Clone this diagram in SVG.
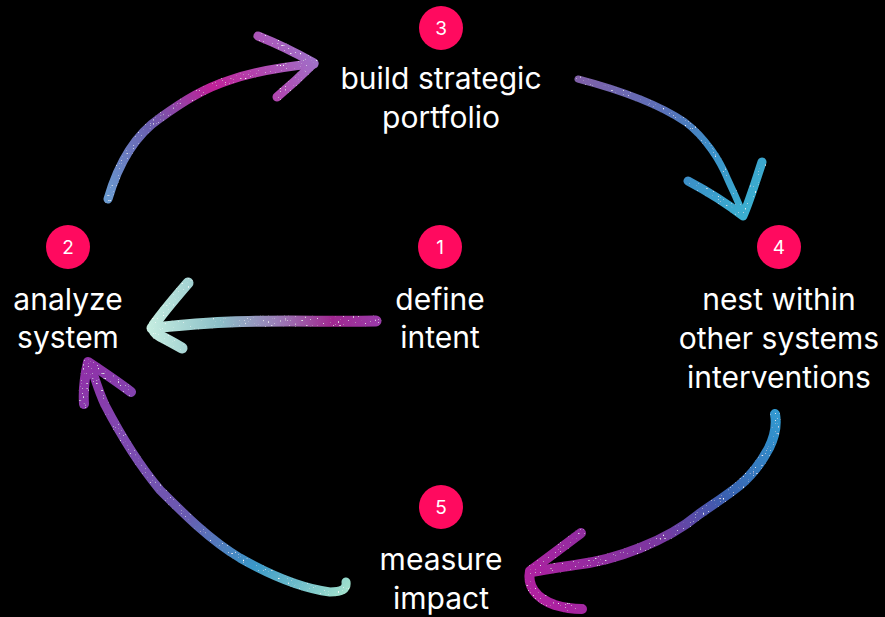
<svg xmlns="http://www.w3.org/2000/svg" width="885" height="617" viewBox="0 0 885 617">
<style>
.badge{fill:#FF0A5F}
.num{fill:#fff;font-family:Inter,"Liberation Sans",sans-serif;font-size:19px;text-anchor:middle}
.lbl{fill:#fff;font-family:Inter,"Liberation Sans",sans-serif;font-size:30px;text-anchor:middle}
.arr{fill:none;stroke-linecap:round;stroke-linejoin:round}
</style>
<defs>
<filter id="glitter" x="-10%" y="-10%" width="120%" height="120%">
<feTurbulence type="fractalNoise" baseFrequency="0.6" numOctaves="1" seed="4" result="n"/>
<feColorMatrix in="n" type="matrix" values="0 0 0 0 1 0 0 0 0 1 0 0 0 0 1 0 0 0 8 -5.4" result="dots"/>
<feComposite in="dots" in2="SourceAlpha" operator="in" result="d2"/>
<feMerge><feMergeNode in="SourceGraphic"/><feMergeNode in="d2"/></feMerge>
</filter>
<linearGradient id="g1" gradientUnits="userSpaceOnUse" x1="150" y1="325" x2="378" y2="320">
<stop offset="0" stop-color="#c4ece0"/><stop offset="0.3" stop-color="#8cc0c8"/><stop offset="0.55" stop-color="#9a80b8"/><stop offset="0.8" stop-color="#a02890"/><stop offset="1" stop-color="#9a3aa8"/>
</linearGradient>
<linearGradient id="g2" gradientUnits="userSpaceOnUse" x1="108" y1="200" x2="315" y2="60">
<stop offset="0" stop-color="#6a9ad0"/><stop offset="0.3" stop-color="#6a60b0"/><stop offset="0.6" stop-color="#c02098"/><stop offset="1" stop-color="#a070c8"/>
</linearGradient>
<linearGradient id="g3" gradientUnits="userSpaceOnUse" x1="577" y1="79" x2="745" y2="215">
<stop offset="0" stop-color="#8060a8"/><stop offset="0.4" stop-color="#5a70b8"/><stop offset="0.7" stop-color="#3a90c8"/><stop offset="1" stop-color="#3ab0d0"/>
</linearGradient>
<linearGradient id="g4" gradientUnits="userSpaceOnUse" x1="775" y1="412" x2="530" y2="590">
<stop offset="0" stop-color="#3098d0"/><stop offset="0.3" stop-color="#3a60b0"/><stop offset="0.55" stop-color="#7838a0"/><stop offset="1" stop-color="#b020a0"/>
</linearGradient>
<linearGradient id="g5" gradientUnits="userSpaceOnUse" x1="348" y1="590" x2="88" y2="362">
<stop offset="0" stop-color="#a0e0cc"/><stop offset="0.25" stop-color="#3a98c8"/><stop offset="0.5" stop-color="#6a5ab0"/><stop offset="0.8" stop-color="#8048b0"/><stop offset="1" stop-color="#9030a8"/>
</linearGradient>
</defs>
<rect width="885" height="617" fill="#000"/>
<g id="connectors" filter="url(#glitter)">
<g id="c-1-2" class="arr" stroke="url(#g1)" stroke-width="11">
<path d="M376 321 C330 322 280 320 230 322 C200 323 175 326 152 328"/>
<path d="M188 283 C175 298 163 312 154 325 C152 330 156 334 160 336 C168 340 175 344 182 348"/>
</g>
<g id="c-2-3" class="arr" stroke="url(#g2)" stroke-width="9">
<path d="M108 199 C118 165 135 135 160 118 C185 100 205 88 230 80 C260 70 290 66 314 64"/>
<path d="M258 36 C278 44 298 54 314 63 C302 75 290 86 277 97"/>
</g>
<g id="c-3-4" class="arr" stroke="url(#g3)">
<path d="M578 79 C620 90 660 105 685 122 C705 137 720 160 728 180 C735 195 740 205 743 215" stroke-width="7"/>
<path d="M688 181 C705 190 725 202 743 216 C750 200 756 180 762 162" stroke-width="9"/>
</g>
<g id="c-4-5" class="arr" stroke="url(#g4)" stroke-width="10">
<path d="M775 414 C777 425 774 438 769 448 C760 465 752 475 740 485 C725 497 712 505 698 515 C680 530 660 540 640 548 C620 556 600 562 575 565 C560 567 545 570 531 572"/>
<path d="M581 533 C565 545 548 558 530 571 C527 585 535 598 555 605 C565 608 575 609 582 609"/>
</g>
<g id="c-5-2" class="arr" stroke="url(#g5)" stroke-width="9">
<path d="M346 582 C347 589 342 592 330 592 C300 588 270 575 240 558 C210 540 185 515 160 490 C135 460 118 430 105 405 C98 390 94 375 90 364"/>
<path d="M84 404 C83 390 85 375 88 362 C100 370 118 382 131 392" stroke-width="10"/>
</g>
</g>
<g id="n1">
<circle class="badge" cx="440" cy="247" r="22"/>
<text class="num" x="440" y="254">1</text>
<text class="lbl" x="440" y="310">define</text>
<text class="lbl" x="440" y="348">intent</text>
</g>
<g id="n2">
<circle class="badge" cx="68" cy="247" r="22"/>
<text class="num" x="68" y="254">2</text>
<text class="lbl" x="68" y="310">analyze</text>
<text class="lbl" x="68" y="348">system</text>
</g>
<g id="n3">
<circle class="badge" cx="441" cy="28" r="22"/>
<text class="num" x="441" y="35">3</text>
<text class="lbl" x="441" y="89">build strategic</text>
<text class="lbl" x="441" y="128">portfolio</text>
</g>
<g id="n4">
<circle class="badge" cx="779" cy="247" r="22"/>
<text class="num" x="779" y="254">4</text>
<text class="lbl" x="779" y="310">nest within</text>
<text class="lbl" x="779" y="349">other systems</text>
<text class="lbl" x="779" y="388">interventions</text>
</g>
<g id="n5">
<circle class="badge" cx="441" cy="507" r="22"/>
<text class="num" x="441" y="514">5</text>
<text class="lbl" x="441" y="570">measure</text>
<text class="lbl" x="441" y="609">impact</text>
</g>
</svg>
